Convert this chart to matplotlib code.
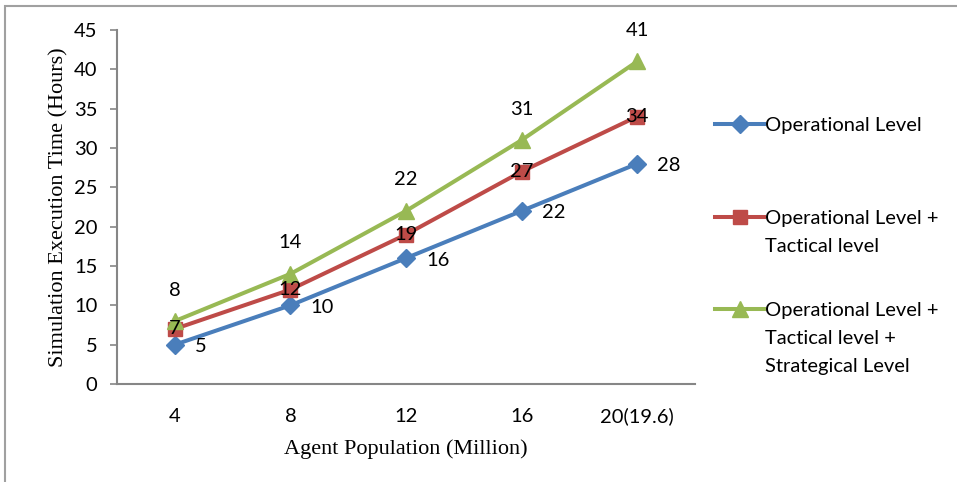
import matplotlib.pyplot as plt
from matplotlib.patches import Rectangle

# categories and series
populations = ['4', '8', '12', '16', '20(19.6)']
operational = [5, 10, 16, 22, 28]
op_tactical = [7, 12, 19, 27, 34]
op_tact_strat = [8, 14, 22, 31, 41]

series_names = ['Operational Level',
                'Operational Level +\nTactical level',
                'Operational Level +\nTactical level +\nStrategical Level']

blue = '#4A7EBB'
red = '#BE4B48'
green = '#98B954'
axis_gray = '#868686'

label_font = ['Lato', 'DejaVu Sans']
title_font = ['Liberation Serif', 'DejaVu Serif']
fs = 14.5

fig = plt.figure(figsize=(9.57, 4.82), dpi=100)
ax = fig.add_axes([0.1223, 0.2033, 0.6039, 0.7345])

x = list(range(len(populations)))
l1, = ax.plot(x, operational, color=blue, lw=2.9, marker='D', ms=9.5,
              label=series_names[0])
l2, = ax.plot(x, op_tactical, color=red, lw=2.9, marker='s', ms=9.5,
              label=series_names[1])
l3, = ax.plot(x, op_tact_strat, color=green, lw=2.9, marker='^', ms=11,
              label=series_names[2])

# value labels
for xi, v in zip(x, operational):
    ax.annotate(str(v), (xi, v), xytext=(20, -2), textcoords='offset pixels',
                ha='left', va='center', fontsize=fs, family=label_font)
for xi, v in zip(x, op_tactical):
    ax.annotate(str(v), (xi, v), xytext=(0, 0), textcoords='offset pixels',
                ha='center', va='center', fontsize=fs, family=label_font)
for xi, v in zip(x, op_tact_strat):
    ax.annotate(str(v), (xi, v), xytext=(0, 31), textcoords='offset pixels',
                ha='center', va='center', fontsize=fs, family=label_font)

ax.set_xlim(-0.5, len(populations) - 0.5)
ax.set_ylim(0, 45)
ax.set_yticks(range(0, 46, 5))
ax.set_xticks(x)
ax.set_xticklabels(populations)

for s in ['top', 'right']:
    ax.spines[s].set_visible(False)
for s in ['left', 'bottom']:
    ax.spines[s].set_color(axis_gray)
    ax.spines[s].set_linewidth(1.5)

ax.tick_params(axis='y', length=5, width=1.2, color=axis_gray, pad=9)
ax.tick_params(axis='x', length=0, pad=17)
for t in ax.get_xticklabels() + ax.get_yticklabels():
    t.set_family(label_font)
    t.set_fontsize(fs)

ax.set_ylabel('Simulation Execution Time (Hours)', family=title_font,
              fontsize=16, labelpad=4)
ax.set_xlabel('Agent Population (Million)', family=title_font,
              fontsize=16, labelpad=10)

# legend: one handle per series, continuation lines written under the first
first_lines = [n.split('\n')[0] for n in series_names]
leg = fig.legend([l1, l2, l3], first_lines, loc='upper left',
                 bbox_to_anchor=(0.737, 0.778), frameon=False,
                 prop={'family': label_font, 'size': fs},
                 handlelength=2.4, handletextpad=0.05, labelspacing=3.75,
                 borderpad=0)

fig.canvas.draw()
renderer = fig.canvas.get_renderer()
inv = fig.transFigure.inverted()
line_step = 28 / 482
for txt, name in zip(leg.get_texts(), series_names):
    bb = txt.get_window_extent(renderer)
    x0, y0 = inv.transform((bb.x0, (bb.y0 + bb.y1) / 2))
    for k, extra in enumerate(name.split('\n')[1:], start=1):
        fig.text(x0, y0 - k * line_step, extra, ha='left', va='center',
                 family=label_font, fontsize=fs)

# outer frame of the chart area
fig.patches.append(Rectangle((5 / 957, -0.2), 1.2, 1.2 - 6 / 482,
                             transform=fig.transFigure, fill=False,
                             edgecolor='#A0A0A0', lw=1.5))

fig.savefig('out.png', dpi=100)
